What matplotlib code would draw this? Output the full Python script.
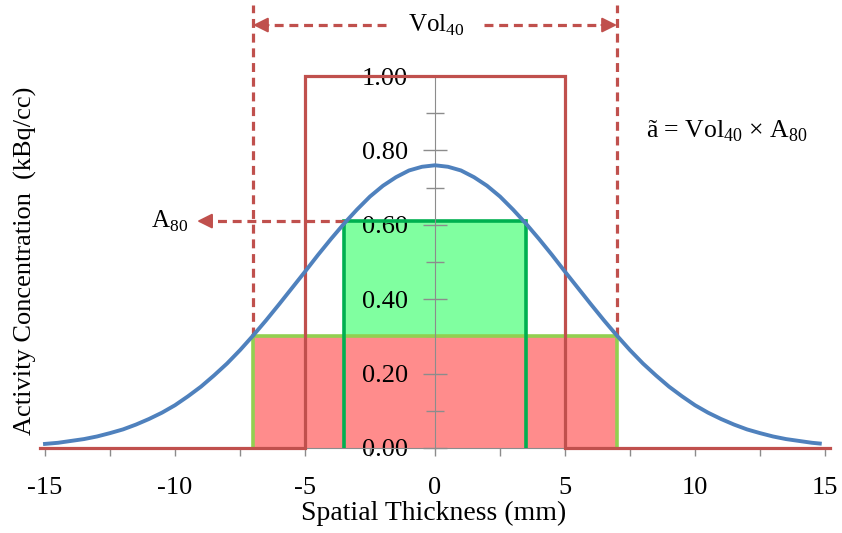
import matplotlib
matplotlib.use("Agg")
import matplotlib.pyplot as plt
from matplotlib.ticker import MultipleLocator, FixedLocator

plt.rcParams['font.family'] = ['Liberation Serif', 'DejaVu Serif']
plt.rcParams['mathtext.fontset'] = 'custom'
plt.rcParams['mathtext.rm'] = 'Liberation Serif'

# Gaussian activity profile
profile_x = [-15, -14.5, -14, -13.5, -13, -12.5, -12, -11.5, -11, -10.5, -10, -9.5, -9, -8.5, -8, -7.5,
             -7, -6.5, -6, -5.5, -5, -4.5, -4, -3.5, -3, -2.5, -2, -1.5, -1, -0.5, 0,
             0.5, 1, 1.5, 2, 2.5, 3, 3.5, 4, 4.5, 5, 5.5, 6, 6.5, 7, 7.5, 8, 8.5, 9, 9.5,
             10, 10.5, 11, 11.5, 12, 12.5, 13, 13.5, 14, 14.5, 14.8]
profile_y = [0.011, 0.014, 0.019, 0.024, 0.031, 0.040, 0.050, 0.063, 0.078, 0.095, 0.115, 0.139, 0.165, 0.195, 0.227, 0.263,
             0.302, 0.343, 0.386, 0.430, 0.474, 0.519, 0.562, 0.603, 0.641, 0.676, 0.705, 0.728, 0.746, 0.756, 0.760,
             0.756, 0.746, 0.728, 0.705, 0.676, 0.641, 0.603, 0.562, 0.519, 0.474, 0.430, 0.386, 0.343, 0.302, 0.263, 0.227, 0.195, 0.165, 0.139,
             0.115, 0.095, 0.078, 0.063, 0.050, 0.040, 0.031, 0.024, 0.019, 0.014, 0.012]

# True object (step)
step_x = [-15.2, -5, -5, 5, 5, 15.2]
step_y = [0, 0, 1.0, 1.0, 0, 0]

vol40_half = 7.0     # 40% threshold half-width
vol40_level = 0.30
a80_half = 3.5       # 80% threshold half-width
a80_level = 0.61

xticks = [-15, -10, -5, 0, 5, 10, 15]
yticks = [0.0, 0.2, 0.4, 0.6, 0.8, 1.0]
ytick_labels = ['0.00', '0.20', '0.40', '0.60', '0.80', '1.00']

RED = '#C0504D'
BLUE = '#4F81BD'
PINK = '#FF8C8C'
LGREEN_FILL = '#80FFA0'
DGREEN = '#00B050'
LGREEN = '#92D050'
GRAY = '#8C8C8C'
DASH = (0, (2.8, 1.8))

fig = plt.figure(figsize=(8.42, 5.33), dpi=100)
ax = fig.add_axes([45/842, (533-448)/533, 780/842, 1.19*372/533])
ax.set_xlim(-15, 15)
ax.set_ylim(0, 1.19)

# fills
ax.fill_between([-vol40_half, vol40_half], 0, vol40_level, color=PINK, lw=0, zorder=1)
ax.fill_between([-a80_half, a80_half], vol40_level, a80_level, color=LGREEN_FILL, lw=0, zorder=1)
# light green outline of pink region
ax.plot([-vol40_half, -vol40_half, vol40_half, vol40_half], [0, vol40_level, vol40_level, 0],
        color=LGREEN, lw=2.6, zorder=3, solid_joinstyle='miter')
# dark green outline of A80 region
ax.plot([-a80_half, -a80_half, a80_half, a80_half], [0, a80_level, a80_level, 0],
        color=DGREEN, lw=2.6, zorder=3, solid_joinstyle='miter')

# step object
ax.plot(step_x, step_y, color=RED, lw=2.3, zorder=4, clip_on=False, solid_joinstyle='miter')

# dashed vertical lines
for sx in (-vol40_half, vol40_half):
    ax.plot([sx, sx], [vol40_level, 1.19], color=RED, lw=2.3, ls=DASH, zorder=5, clip_on=False)

# Vol40 arrows
ytop = 1.137
for x0, x1 in ((-1.9, -vol40_half), (1.9, vol40_half)):
    d = 1 if x1 > x0 else -1
    ax.plot([x0, x1 - d*0.4], [ytop, ytop], color=RED, lw=2.3, ls=DASH, zorder=5, clip_on=False)
    ax.annotate('', xy=(x1, ytop), xytext=(x1 - d*0.6, ytop),
                arrowprops=dict(arrowstyle='-|>,head_length=0.9,head_width=0.45', color=RED, lw=1.5,
                                shrinkA=0, shrinkB=0), annotation_clip=False, zorder=5)
ax.text(0.05, ytop, r'Vol$_{\mathregular{40}}$', ha='center', va='center', fontsize=18, zorder=6)

# A80 arrow
ax.plot([-a80_half, -8.8], [a80_level, a80_level], color=RED, lw=2.3, ls=DASH, zorder=5)
ax.annotate('', xy=(-9.15, a80_level), xytext=(-8.6, a80_level),
            arrowprops=dict(arrowstyle='-|>,head_length=0.9,head_width=0.45', color=RED, lw=1.5,
                            shrinkA=0, shrinkB=0), zorder=5)
ax.text(-9.5, a80_level, r'A$_{\mathregular{80}}$', ha='right', va='center', fontsize=18, zorder=6)

# formula
ax.text(8.1, 0.852, r'ã = Vol$_{\mathregular{40}}$ × A$_{\mathregular{80}}$', ha='left', va='center',
        fontsize=18.5, zorder=6)

# gaussian
ax.plot(profile_x, profile_y, color=BLUE, lw=2.8, zorder=7, clip_on=False)

# axes styling
for s in ('top', 'right'):
    ax.spines[s].set_visible(False)
ax.spines['left'].set_position(('data', 0))
ax.spines['left'].set_bounds(0, 1.0)
ax.spines['left'].set_color(GRAY)
ax.spines['left'].set_zorder(3.5)
ax.spines['bottom'].set_color(GRAY)
ax.spines['bottom'].set_bounds(-15, 15)

ax.xaxis.set_major_locator(FixedLocator(xticks))
ax.xaxis.set_minor_locator(MultipleLocator(2.5))
ax.set_xticklabels([str(t) for t in xticks])
ax.tick_params(axis='x', which='both', direction='out', length=6, width=1, color=GRAY,
               labelsize=19, pad=15)

ax.yaxis.set_major_locator(FixedLocator(yticks))
ax.yaxis.set_minor_locator(FixedLocator([0.1, 0.3, 0.5, 0.7, 0.9]))
ax.set_yticklabels(ytick_labels)
ax.tick_params(axis='y', which='major', direction='inout', length=17, width=1, color=GRAY,
               labelsize=19, pad=11)
ax.tick_params(axis='y', which='minor', direction='inout', length=13, width=1, color=GRAY)
for lab in ax.get_yticklabels():
    lab.set_zorder(8)

fig.text(434/842, 1 - 513/533, 'Spatial Thickness (mm)', ha='center', va='center', fontsize=20)
fig.text(25/842, 1 - 261/533, 'Activity Concentration  (kBq/cc)', ha='center', va='center',
         fontsize=19, rotation=90)

fig.savefig('out.png', dpi=100)
